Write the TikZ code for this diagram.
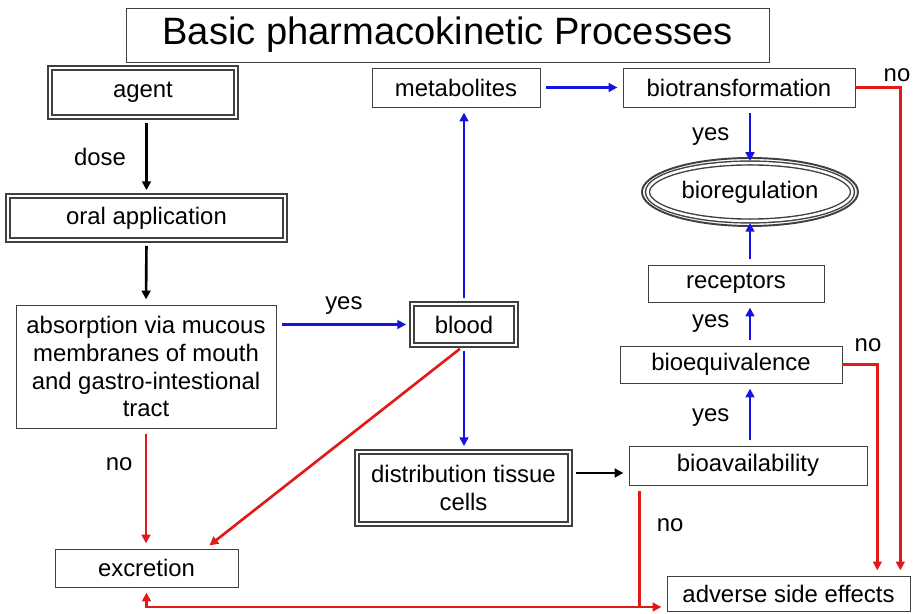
\documentclass[tikz,border=0pt]{standalone}
\usepackage{fontspec}
\setmainfont{Liberation Sans}
\usetikzlibrary{arrows.meta,shapes.geometric,positioning}
\definecolor{flowblue}{RGB}{20,20,225}
\definecolor{flowred}{RGB}{225,25,25}
\tikzset{
    plain-box/.style = {draw=black!75, fill=white, rectangle, inner sep=2pt, align=center, font=\fontsize{13.6}{15.9}\selectfont},
    double-box/.style = {plain-box, double, double distance=1.6pt, line width=0.7pt},
    title-box/.style = {draw=black!75, fill=white, rectangle, font=\fontsize{21.7}{24}\selectfont},
    flow-label/.style = {font=\fontsize{13.6}{15.9}\selectfont, inner sep=1pt},
    black-arrow/.style = {draw=black, line width=1.5pt, -{Triangle[length=5pt,width=5pt]}, shorten <=3pt, shorten >=3pt},
    blue-arrow/.style = {black-arrow, draw=flowblue},
    red-arrow/.style = {black-arrow, draw=flowred},
    red-line/.style = {draw=flowred, line width=1.5pt},
}

\begin{document}
\begin{tikzpicture}[x=0.02cm, y=-0.02cm]
\useasboundingbox (0,0) rectangle (914,614);

% title
\node[title-box, minimum width=12.86cm, minimum height=1.08cm] (title) at (447.5,35) {Basic pharmacokinetic Processes};

% left column
\node[double-box, minimum width=3.72cm, minimum height=0.98cm] (agent) at (143,92.5) {agent};
\node[double-box, minimum width=5.54cm, minimum height=0.88cm] (oral) at (146.5,218) {oral application};
\node[plain-box, minimum width=5.2cm, minimum height=2.46cm] (absorption) at (146,366.5) {absorption via mucous\\membranes of mouth\\and gastro-intestional\\tract};
\node[plain-box, minimum width=3.66cm, minimum height=0.76cm] (excretion) at (146.5,568) {excretion};

% middle column
\node[plain-box, minimum width=3.36cm, minimum height=0.78cm] (metabolites) at (456,87.5) {metabolites};
\node[double-box, minimum width=2.08cm, minimum height=0.82cm] (blood) at (464,324.5) {blood};
\node[double-box, minimum width=4.26cm, minimum height=1.44cm] (distribution) at (463.5,488) {distribution tissue\\cells};

% right column
\node[plain-box, minimum width=4.64cm, minimum height=0.78cm] (biotrans) at (739,87.5) {biotransformation};
\node[plain-box, ellipse, double, double distance=1.4pt, line width=0.8pt, minimum width=4.1cm, minimum height=1.16cm] (bioreg) at (750,192) {bioregulation};
\draw[black!75, line width=1.1pt] (bioreg.center) ellipse [x radius=2.16cm, y radius=0.68cm];
\node[plain-box, minimum width=3.52cm, minimum height=0.74cm] (receptors) at (736,283.5) {receptors};
\node[plain-box, minimum width=4.44cm, minimum height=0.74cm] (bioequiv) at (731,364.5) {bioequivalence};
\node[plain-box, minimum width=4.76cm, minimum height=0.78cm] (bioavail) at (748,465.5) {bioavailability};
\node[plain-box, minimum width=4.86cm, minimum height=0.7cm] (adverse) at (788.5,593.5) {adverse side effects};

% black flow
\draw[black-arrow] (agent.south -| oral) -- node[flow-label, left=10pt] (dose-lbl) {dose} (oral.north);
\draw[black-arrow] (oral.south) -- (absorption.north);
\draw[black-arrow] ([yshift=0.3cm]distribution.east) -- ([yshift=0.3cm]distribution.east -| bioavail.west);

% blue flow
\draw[blue-arrow] (absorption.east |- blood) -- node[flow-label, above=4pt] (yes-blood) {yes} (blood.west);
\draw[blue-arrow] (blood.north) -- (blood.north |- metabolites.south);
\draw[blue-arrow] (blood.south) -- (blood.south |- distribution.north);
\draw[blue-arrow] (metabolites.east) -- (biotrans.west);
\draw[blue-arrow] (biotrans.south -| bioreg) -- node[flow-label, left=10pt] (yes-bioreg) {yes} ([yshift=-0.08cm]bioreg.north);
\draw[blue-arrow] (receptors.north -| bioreg) -- ([yshift=0.08cm]bioreg.south);
\draw[blue-arrow] (bioequiv.north -| bioreg) -- node[flow-label, left=10pt] (yes-receptors) {yes} (receptors.south -| bioreg);
\draw[blue-arrow] (bioavail.north -| bioreg) -- node[flow-label, left=10pt, pos=0.45] (yes-bioequiv) {yes} (bioequiv.south -| bioreg);

% red flow
\draw[red-arrow] (absorption.south) -- node[flow-label, left=6pt, pos=0.3] (no-excretion) {no} (absorption.south |- excretion.north);
\draw[red-arrow] (blood.south) -- ([xshift=-0.66cm]excretion.north east);
\draw[red-arrow, shorten <=0pt] (biotrans.east) -| ([xshift=-0.2cm]adverse.north east);
\node[flow-label] (no-biotrans) at (897,75) {no};
\draw[red-arrow, shorten <=0pt] (bioequiv.east) -| ([xshift=-0.66cm]adverse.north east);
\node[flow-label] (no-bioequiv) at (868,345) {no};
\coordinate (junction) at ([xshift=0.22cm]bioavail.south west |- 0,607);
\draw[red-line] ([xshift=0.22cm,yshift=-3pt]bioavail.south west) -- node[flow-label, right=8pt, pos=0.3] (no-bioavail) {no} (junction);
\draw[red-arrow, shorten <=0pt] (junction) -- (adverse.west |- junction);
\draw[red-arrow, shorten <=0pt] (junction) -| (excretion.south);

\end{tikzpicture}
\end{document}
